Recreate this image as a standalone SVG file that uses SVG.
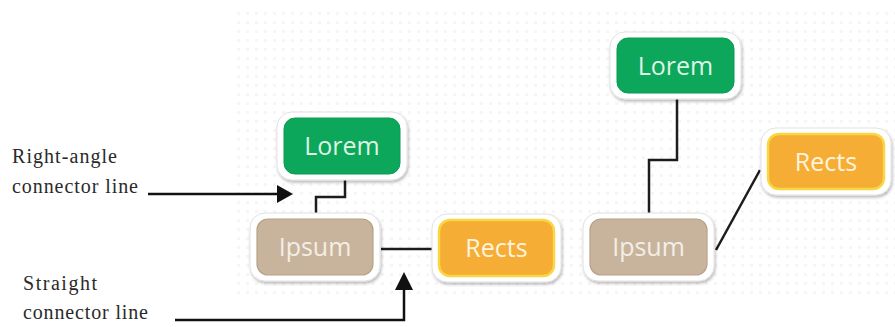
<svg xmlns="http://www.w3.org/2000/svg" width="895" height="327" viewBox="0 0 895 327">
<defs>
<pattern id="dots" x="237" y="12" width="9" height="9" patternUnits="userSpaceOnUse">
<rect x="0" y="0" width="3" height="3" fill="#f6f6f6"/>
</pattern>
<filter id="sh" x="-20%" y="-20%" width="140%" height="150%">
<feDropShadow dx="1" dy="2" stdDeviation="1.6" flood-color="#000" flood-opacity="0.28"/>
</filter>
</defs>
<style>
.frame{fill:#fff;stroke:#e2e2e2;stroke-width:1;filter:url(#sh)}
.green{fill:#0ca75b;stroke:#0a9a52;stroke-width:1}
.tan{fill:#c8b49c;stroke:#b7a288;stroke-width:1.2}
.orange{fill:#f6ad36;stroke:#f7d843;stroke-width:2.5}
.bt{font-family:"Open Sans","Noto Sans",sans-serif;font-size:25px;text-anchor:middle}
.lt{fill:#def4e5}
.it{fill:#f3eee7}
.rt{fill:#fff4de}
.conn{fill:none;stroke:#1c1c1c;stroke-width:2.5}
.lbl{font-family:"Liberation Serif","Times New Roman",serif;font-size:20px;fill:#2a2a2a}
.arr{fill:none;stroke:#111;stroke-width:2.5}
.head{fill:#111}
</style>
<rect x="237" y="12" width="658" height="284" fill="url(#dots)"/>

<g id="connectors">
<polyline class="conn" points="345,180 345,197 316,197 316,213"/>
<line class="conn" x1="381" y1="249" x2="432" y2="249"/>
<polyline class="conn" points="677,99 677,160 649,160 649,213"/>
<line class="conn" x1="716" y1="250" x2="760" y2="170"/>
</g>

<g id="node-lorem-left">
<rect class="frame" x="277" y="112" width="130" height="68" rx="15"/>
<rect class="green" x="284" y="118" width="116" height="56" rx="11"/>
<text class="bt lt" x="342" y="155">Lorem</text>
</g>
<g id="node-ipsum-left">
<rect class="frame" x="250" y="213" width="130" height="68" rx="15"/>
<rect class="tan" x="257" y="219" width="116" height="56" rx="11"/>
<text class="bt it" x="315" y="256">Ipsum</text>
</g>
<g id="node-rects-left">
<rect class="frame" x="432" y="214" width="129" height="68" rx="15"/>
<rect class="orange" x="439" y="220" width="115" height="56" rx="11"/>
<text class="bt rt" x="496.5" y="257">Rects</text>
</g>

<g id="node-lorem-right">
<rect class="frame" x="610" y="32" width="131" height="67" rx="15"/>
<rect class="green" x="617" y="38" width="117" height="55" rx="11"/>
<text class="bt lt" x="675.5" y="74.5">Lorem</text>
</g>
<g id="node-ipsum-right">
<rect class="frame" x="583" y="213" width="131" height="68" rx="15"/>
<rect class="tan" x="590" y="219" width="117" height="56" rx="11"/>
<text class="bt it" x="648.5" y="256">Ipsum</text>
</g>
<g id="node-rects-right">
<rect class="frame" x="761" y="128" width="130" height="67" rx="15"/>
<rect class="orange" x="768" y="134" width="116" height="55" rx="11"/>
<text class="bt rt" x="826" y="170.5">Rects</text>
</g>

<g id="label-right-angle">
<text class="lbl" x="12" y="163" textLength="105" lengthAdjust="spacing">Right-angle</text>
<text class="lbl" x="12" y="193" textLength="126" lengthAdjust="spacing">connector line</text>
<line class="arr" x1="148" y1="194" x2="280" y2="194"/>
<polygon class="head" points="293,194 277,185 277,203"/>
</g>
<g id="label-straight">
<text class="lbl" x="23" y="290" textLength="74" lengthAdjust="spacing">Straight</text>
<text class="lbl" x="23" y="319" textLength="125" lengthAdjust="spacing">connector line</text>
<polyline class="arr" points="175,320 404,320 404,287"/>
<polygon class="head" points="404,272 395,290 413,290"/>
</g>
</svg>
